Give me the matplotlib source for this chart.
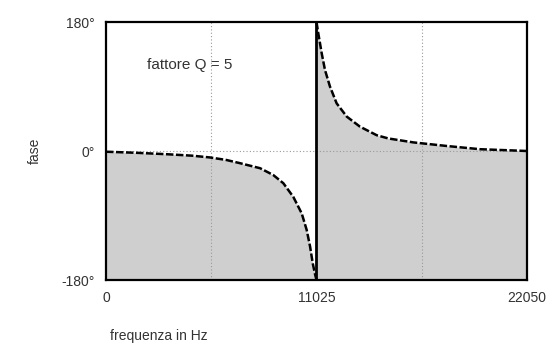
import matplotlib.pyplot as plt

# valori (frequenza in Hz, fase in gradi)
freq_sx = [0, 1600, 3200, 4500, 5450, 6300, 7020, 8070, 8760, 9290, 9810, 10250, 10510, 10690, 10830, 10950, 11025]
fase_sx = [-1, -2.5, -4.5, -6.5, -9, -12.5, -17, -24, -33.5, -45, -64, -87, -110, -133.5, -157, -172, -180]

freq_dx = [11025, 11120, 11300, 11470, 11730, 12080, 12610, 13300, 14180, 14790, 16100, 17850, 19590, 21680, 22050]
fase_dx = [180, 164, 136, 113, 90, 66.5, 48, 34, 22, 17.5, 12, 7, 2.5, 0.4, 0]

tick_x = [0, 11025, 22050]
tick_x_lab = ["0", "11025", "22050"]
tick_y = [-180, 0, 180]
tick_y_lab = ["-180°", "0°", "180°"]
griglia_x = [5512.5, 16537.5]

plt.rcParams['font.family'] = ['Liberation Sans', 'DejaVu Sans']

fig = plt.figure(figsize=(5.48, 3.52), dpi=100)
ax = fig.add_axes([0.1934, 0.2045, 0.7683, 0.733])

freq = freq_sx + freq_dx
fase = fase_sx + fase_dx
ax.fill_between(freq, fase, -180, color='#cfcfcf', linewidth=0)
ax.plot(freq_sx, fase_sx, color='black', lw=1.8, ls=(0, (3, 1)))
ax.plot(freq_dx, fase_dx, color='black', lw=1.8, ls=(0, (3, 1)))

for g in griglia_x:
    ax.axvline(g, color='#999999', lw=0.8, ls=(0, (1, 2)), zorder=1.5)
ax.axhline(0, color='#999999', lw=0.8, ls=(0, (1, 2)), zorder=1.5)
ax.axvline(11025, color='black', lw=2)

ax.set_xlim(0, 22050)
ax.set_ylim(-180, 180)
ax.set_xticks(tick_x, tick_x_lab)
ax.set_yticks(tick_y, tick_y_lab)
ax.tick_params(length=0, labelsize=10, colors='#333333', pad=8)
for s in ax.spines.values():
    s.set_linewidth(1.6)

ax.text(2150, 120, "fattore Q = 5", fontsize=11, color='#333333', va='center')
ax.set_ylabel("fase", fontsize=10, color='#333333', labelpad=14)
fig.text(0.2, 0.035, "frequenza in Hz", fontsize=10, color='#333333')

fig.savefig("out.png", dpi=100)
